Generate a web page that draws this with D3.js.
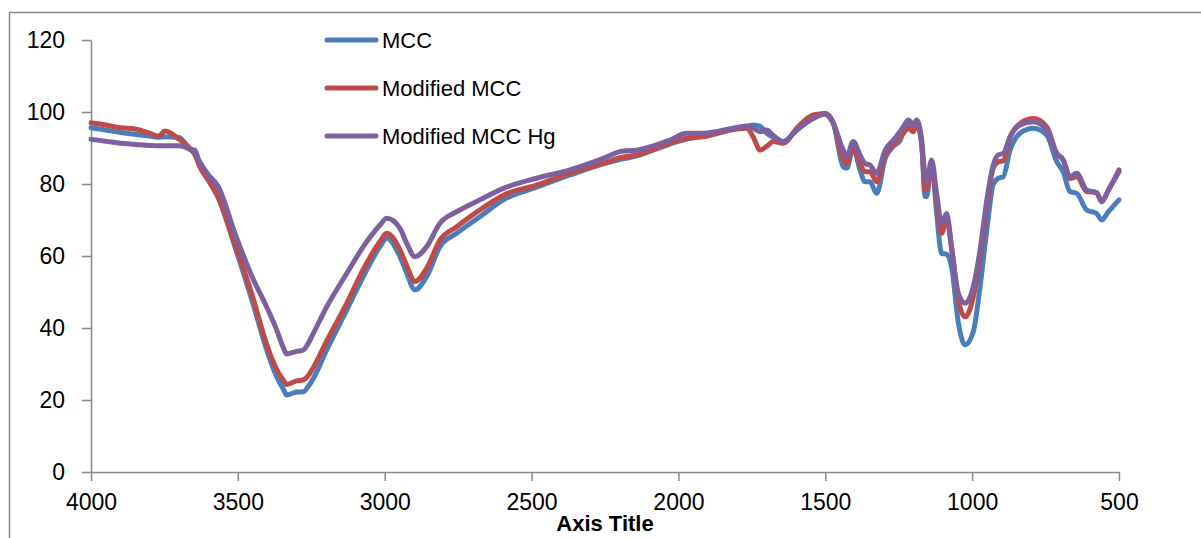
<!DOCTYPE html>
<html>
<head>
<meta charset="utf-8">
<script src="https://cdn.jsdelivr.net/npm/d3@7"></script>
<style>
  html, body { margin: 0; padding: 0; background: #fff; }
  svg { display: block; }
  text { font-family: "Liberation Sans", Arial, sans-serif; fill: #000; }
</style>
</head>
<body>
<svg id="chart" width="1201" height="538"></svg>
<script>
const wavenumbers = [4000,3950,3900,3850,3800,3770,3748,3700,3660,3646,3630,3600,3567,3510,3453,3400,3368,3345,3334,3300,3277,3260,3243,3200,3129,3073,3016,2993,2948,2925,2897,2857,2812,2755,2676,2596,2483,2369,2256,2199,2142,2029,1972,1915,1802,1767,1745,1722,1699,1677,1643,1597,1541,1501,1473,1439,1427,1405,1382,1365,1348,1325,1296,1268,1246,1234,1217,1200,1189,1172,1160,1155,1138,1121,1104,1087,1070,1047,1024,996,973,950,928,911,894,871,837,792,746,712,690,667,644,610,576,559,536,500];

const mcc = [95.6,95.0,94.3,93.8,93.3,93.0,93.1,92.9,89.6,89.4,85.3,81.0,76.2,62.6,48.0,33.5,26.5,23.0,21.4,22.2,22.3,23.8,26.0,33.5,45.0,54.3,62.6,64.9,59.8,55.2,50.6,54.3,62.6,66.3,70.9,75.6,79.1,82.5,85.6,86.8,87.8,91.1,92.5,93.3,95.5,96.0,96.4,96.0,94.1,93.0,91.8,95.0,98.5,99.6,97.0,84.8,84.4,89.9,84.0,80.6,80.6,77.4,87.1,90.5,92.0,94.5,96.9,95.0,96.9,91.3,76.5,76.5,86.2,72.0,60.7,60.5,57.0,41.5,35.3,39.0,51.5,67.2,80.0,81.6,82.0,89.4,94.1,95.5,93.6,86.2,83.4,77.9,77.4,72.8,71.8,70.0,72.3,75.6];

const modifiedMcc = [97.0,96.4,95.6,95.3,94.1,93.3,94.7,92.4,89.6,88.1,84.8,81.1,76.5,63.5,49.6,35.0,28.5,25.5,24.3,25.3,25.6,26.8,29.0,36.0,46.9,56.3,64.0,66.3,61.7,57.3,52.9,56.6,64.4,68.1,72.8,76.9,79.7,83.0,85.7,87.3,88.1,91.3,92.7,93.1,95.3,95.5,93.0,89.4,90.5,91.8,91.3,95.5,99.2,99.6,97.0,87.1,85.7,90.4,86.0,83.4,83.4,80.6,88.1,91.0,93.0,94.1,95.5,94.5,96.9,91.3,78.3,78.3,85.5,75.0,66.3,70.5,62.0,47.8,43.1,48.7,59.8,73.7,84.5,86.2,86.5,93.0,96.8,98.2,95.9,88.5,86.7,81.5,82.0,77.9,77.6,75.1,78.3,83.9];

const modifiedMccHg = [92.4,91.9,91.3,91.0,90.7,90.6,90.6,90.6,89.4,88.6,86.2,82.5,79.3,66.3,54.5,45.5,39.5,34.5,32.8,33.5,33.9,35.8,38.5,45.5,55.2,62.6,68.6,70.5,67.7,63.5,59.8,62.6,69.1,72.3,75.6,78.8,81.6,83.9,87.1,89.0,89.4,92.2,94.1,94.1,95.7,96.1,95.5,94.5,95.0,93.5,91.8,95.0,98.2,99.4,96.9,89.4,87.6,91.8,88.1,85.7,85.3,83.0,89.4,92.2,94.5,95.9,97.8,96.4,97.8,92.2,82.0,80.2,86.7,77.4,69.1,71.8,62.6,49.6,46.9,51.5,61.7,75.6,85.3,88.1,88.5,93.1,96.4,97.3,95.0,88.5,86.7,82.0,83.0,78.3,77.6,75.1,78.3,83.4];

const seriesNames = ["MCC", "Modified MCC", "Modified MCC Hg"];
const seriesColors = ["#4A7EBB", "#BE4B48", "#7D60A0"];
const xTicks = [4000,3500,3000,2500,2000,1500,1000,500];
const yTicks = [0,20,40,60,80,100,120];
const xAxisTitle = "Axis Title";

const svg = d3.select("#chart");
const axisColor = "#868686";

// outer chart border
svg.append("rect")
  .attr("x", 9.5).attr("y", 12.5)
  .attr("width", 1300).attr("height", 600)
  .attr("fill", "none").attr("stroke", axisColor).attr("stroke-width", 1.5);

const x = d3.scaleLinear().domain([4000, 500]).range([91, 1119]);
const y = d3.scaleLinear().domain([0, 120]).range([472, 40]);

// y axis
const yAxis = svg.append("g").attr("transform", "translate(91,0)")
  .call(d3.axisLeft(y).tickValues(yTicks).tickFormat(d3.format("d"))
    .tickSize(9).tickPadding(17).tickSizeOuter(0));
// x axis
const xAxis = svg.append("g").attr("transform", "translate(0,472)")
  .call(d3.axisBottom(x).tickValues(xTicks).tickFormat(d3.format("d"))
    .tickSize(9).tickPadding(13).tickSizeOuter(0));

[yAxis, xAxis].forEach(g => {
  g.select(".domain").attr("stroke", axisColor).attr("stroke-width", 1.5);
  g.selectAll(".tick line").attr("stroke", axisColor).attr("stroke-width", 1.5);
  g.selectAll(".tick text").style("font-family", '"Liberation Sans", Arial, sans-serif')
    .style("font-size", "23px").attr("fill", "#000");
});

const allSeries = [mcc, modifiedMcc, modifiedMccHg];
const line = d3.line()
  .x((d, i) => x(wavenumbers[i]))
  .y(d => y(d))
  .curve(d3.curveMonotoneX);

allSeries.forEach((vals, k) => {
  svg.append("path")
    .datum(vals)
    .attr("d", line)
    .attr("fill", "none")
    .attr("stroke", seriesColors[k])
    .attr("stroke-width", 5)
    .attr("stroke-linejoin", "round")
    .attr("stroke-linecap", "round");
});

// legend
const legend = svg.append("g");
seriesNames.forEach((name, k) => {
  const ly = 40 + k * 48;
  legend.append("line")
    .attr("x1", 327).attr("x2", 376).attr("y1", ly).attr("y2", ly)
    .attr("stroke", seriesColors[k]).attr("stroke-width", 5)
    .attr("stroke-linecap", "round");
  legend.append("text")
    .attr("x", 382).attr("y", ly).attr("dy", "0.35em")
    .style("font-size", "22px")
    .text(name);
});

// x axis title
svg.append("text")
  .attr("x", 605).attr("y", 531)
  .attr("text-anchor", "middle")
  .style("font-size", "22px").style("font-weight", "bold")
  .text(xAxisTitle);
</script>
</body>
</html>
